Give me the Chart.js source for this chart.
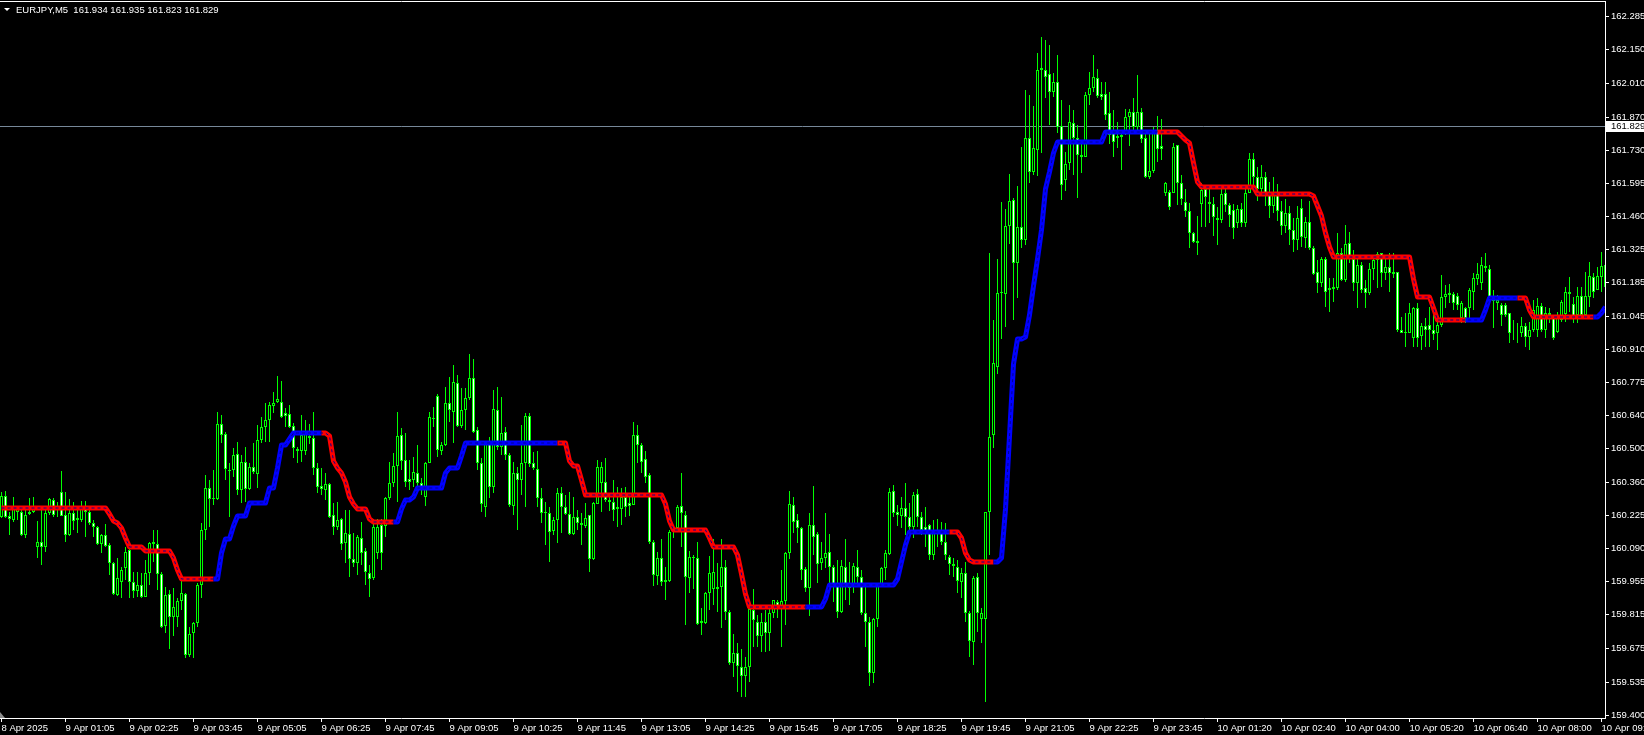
<!DOCTYPE html>
<html>
<head>
<meta charset="utf-8">
<script src="https://cdn.jsdelivr.net/npm/chart.js@4.4.1/dist/chart.umd.min.js"></script>
<style>
html, body { margin: 0; padding: 0; background: #000; overflow: hidden; }
#wrap { width: 1644px; height: 735px; }
</style>
</head>
<body>
<div id="wrap"><canvas id="chart" width="1644" height="735"></canvas></div>
<script>
// EURJPY M5, one entry per bar (8 Apr 23:45 ... 10 Apr 09:25)
var symbolTitle = 'EURJPY,M5  161.934 161.935 161.823 161.829';
var bidPrice = 161.829;

var opens = [
160.218,160.304,160.221,160.205,160.239,160.239,160.143,160.228,160.239,160.092,
160.115,160.092,160.235,160.287,160.249,160.319,160.225,160.143,160.235,160.212,
160.205,160.263,160.239,160.194,160.177,160.106,160.143,160.102,160.026,159.895,
159.950,160.005,160.081,159.948,159.913,159.937,159.886,159.987,160.106,160.104,
159.981,159.767,159.898,159.806,159.806,159.872,159.898,159.648,159.737,159.781,
159.937,160.164,160.335,160.290,160.290,160.600,160.558,160.411,160.411,160.477,
160.329,160.446,160.331,160.422,160.393,160.535,160.590,160.618,160.675,160.693,
160.693,160.645,160.642,160.593,160.496,160.490,160.491,160.552,160.542,160.418,
160.345,160.328,160.353,160.225,160.177,160.207,160.109,160.147,160.042,160.029,
160.129,160.077,159.985,159.964,160.070,160.184,160.180,160.294,160.359,160.428,
160.556,160.452,160.374,160.370,160.400,160.356,160.298,160.438,160.624,160.716,
160.491,160.514,160.689,160.652,160.771,160.593,160.659,160.707,160.789,160.576,
160.438,160.260,160.521,160.340,160.659,160.505,160.569,160.473,160.262,160.397,
160.370,160.441,160.634,160.441,160.414,160.294,160.239,160.232,160.160,160.205,
160.317,160.260,160.228,160.147,160.216,160.191,160.180,160.225,160.044,160.271,
160.359,160.360,160.287,160.281,160.259,160.249,160.301,160.274,160.266,160.556,
160.514,160.455,160.391,160.115,159.974,160.047,159.957,159.954,160.157,160.171,
160.263,160.226,159.964,160.054,160.047,159.780,159.778,159.905,159.919,159.919,
159.930,160.012,159.827,159.613,159.657,159.600,159.561,159.600,159.833,159.785,
159.724,159.785,159.740,159.820,159.868,159.836,159.871,160.070,160.267,160.205,
160.170,160.001,159.923,160.184,160.147,160.026,160.047,160.071,160.012,159.936,
159.826,160.012,159.936,159.930,160.012,159.968,159.820,159.785,159.575,159.795,
159.940,160.005,160.064,160.326,160.239,160.222,160.253,160.219,160.177,160.311,
160.219,160.174,160.184,160.060,160.157,160.150,160.113,160.054,160.022,160.012,
159.950,159.985,159.820,159.703,159.968,159.795,159.795,160.239,160.556,160.838,
161.140,161.138,161.418,161.525,161.267,161.415,161.360,161.780,161.642,161.732,
162.062,162.062,162.045,161.972,162.014,161.831,161.608,161.677,161.845,161.780,
161.711,161.704,161.959,161.986,162.028,161.963,161.963,161.883,161.814,161.789,
161.794,161.800,161.869,161.890,161.828,161.890,161.780,161.619,161.646,161.811,
161.748,161.553,161.560,161.556,161.752,161.594,161.518,161.481,161.388,161.358,
161.509,161.570,161.519,161.509,161.450,161.443,161.553,161.505,161.484,161.432,
161.487,161.429,161.553,161.693,161.620,161.570,161.620,161.550,161.500,161.560,
161.480,161.420,161.470,161.400,161.360,161.491,161.367,161.436,161.326,161.230,
161.182,161.281,161.154,161.157,161.161,161.305,161.195,161.350,161.281,161.182,
161.257,161.161,161.143,161.239,161.278,161.305,161.226,161.248,161.230,161.230,
160.991,160.982,160.978,160.955,161.078,160.964,161.006,161.010,160.990,160.978,
161.010,161.127,161.134,161.136,161.128,161.040,161.078,161.078,161.147,161.199,
161.182,161.253,161.239,161.129,161.099,161.092,161.092,161.058,160.978,160.975,
160.978,161.006,160.961,160.989,160.989,161.088,160.989,161.051,161.037,160.982,
161.030,161.057,161.146,161.096,161.051,161.129,161.051,161.126,161.206,161.154,
161.209,161.257
];

var highs = [
160.322,160.324,160.239,160.301,160.253,160.253,160.253,160.294,160.298,160.201,
160.253,160.253,160.294,160.294,160.281,160.407,160.322,160.290,160.281,160.253,
160.285,160.285,160.246,160.205,160.181,160.147,160.188,160.111,160.033,160.047,
160.012,160.095,160.088,159.992,159.992,159.987,160.040,160.115,160.164,160.164,
159.992,159.930,159.916,159.923,159.882,159.957,159.902,159.765,159.785,159.944,
160.191,160.391,160.370,160.411,160.649,160.638,160.569,160.439,160.500,160.525,
160.473,160.508,160.439,160.521,160.597,160.631,160.689,160.693,160.734,160.800,
160.780,160.666,160.679,160.604,160.508,160.640,160.617,160.600,160.652,160.439,
160.418,160.397,160.356,160.273,160.280,160.212,160.246,160.246,160.150,160.143,
160.198,160.088,160.019,160.207,160.207,160.207,160.301,160.445,160.480,160.652,
160.583,160.562,160.452,160.466,160.514,160.380,160.445,160.652,160.672,160.725,
160.528,160.755,160.796,160.844,160.803,160.748,160.748,160.890,160.870,160.590,
160.459,160.528,160.549,160.741,160.755,160.714,160.590,160.480,160.445,160.425,
160.597,160.645,160.648,160.487,160.491,160.335,160.280,160.260,160.218,160.335,
160.342,160.308,160.321,160.301,160.246,160.232,160.273,160.225,160.280,160.452,
160.446,160.459,160.300,160.370,160.342,160.336,160.342,160.315,160.611,160.597,
160.521,160.490,160.397,160.122,160.074,160.126,160.012,160.164,160.185,160.267,
160.398,160.240,160.076,160.060,160.115,159.840,159.909,160.056,160.126,160.026,
160.126,160.040,159.833,159.734,159.696,159.671,159.638,159.861,159.919,159.813,
159.820,159.833,159.836,159.875,159.875,159.999,160.074,160.325,160.301,160.229,
160.177,160.012,160.232,160.345,160.157,160.115,160.233,160.147,160.019,160.040,
160.040,160.126,160.033,160.026,160.081,159.999,159.933,159.806,159.799,159.944,
160.012,160.081,160.336,160.349,160.267,160.301,160.356,160.274,160.322,160.333,
160.239,160.260,160.188,160.205,160.208,160.198,160.191,160.060,160.050,160.040,
160.005,160.033,159.830,159.974,159.985,159.840,160.239,161.305,161.030,161.281,
161.518,161.487,161.633,161.532,161.583,161.746,161.979,161.959,161.914,162.131,
162.200,162.186,162.165,162.048,162.124,161.938,161.725,161.917,161.897,161.835,
161.773,161.973,162.055,162.124,162.065,162.014,162.014,161.973,161.897,161.849,
161.814,161.900,161.900,161.945,162.041,161.904,161.814,161.814,161.828,161.872,
161.861,161.600,161.567,161.759,161.752,161.629,161.570,161.515,161.395,161.459,
161.594,161.588,161.581,161.539,161.498,161.588,161.588,161.515,161.509,161.505,
161.512,161.581,161.721,161.720,161.660,161.670,161.640,161.600,161.620,161.590,
161.520,161.530,161.500,161.450,161.500,161.530,161.457,161.520,161.336,161.278,
161.292,161.292,161.202,161.205,161.388,161.326,161.422,161.395,161.319,161.285,
161.271,161.196,161.264,161.299,161.312,161.308,161.299,161.305,161.305,161.230,
161.044,161.058,161.099,161.085,161.099,161.017,161.038,161.085,161.051,161.028,
161.216,161.175,161.178,161.147,161.140,161.110,161.085,161.161,161.223,161.264,
161.292,161.308,161.257,161.154,161.133,161.099,161.099,161.058,161.030,161.017,
161.044,161.017,161.020,161.113,161.120,161.099,161.085,161.078,161.051,161.065,
161.113,161.168,161.209,161.126,161.168,161.168,161.230,161.271,161.226,161.250,
161.312,161.257
];

var lows = [
160.212,160.212,160.143,160.198,160.205,160.139,160.129,160.225,160.232,160.050,
160.019,160.074,160.225,160.218,160.218,160.223,160.115,160.139,160.164,160.153,
160.198,160.136,160.184,160.136,160.102,160.067,160.095,159.978,159.895,159.891,
159.882,159.957,159.882,159.882,159.888,159.882,159.886,159.937,160.033,159.916,
159.760,159.737,159.671,159.726,159.765,159.833,159.634,159.641,159.634,159.765,
159.882,160.122,160.177,160.267,160.287,160.521,160.370,160.218,160.384,160.308,
160.274,160.281,160.329,160.395,160.335,160.521,160.528,160.528,160.648,160.689,
160.625,160.590,160.583,160.459,160.441,160.445,160.473,160.520,160.390,160.317,
160.308,160.287,160.212,160.143,160.163,160.081,160.026,159.971,160.012,159.978,
160.019,159.936,159.888,159.957,160.042,159.998,160.136,160.287,160.342,160.280,
160.411,160.342,160.328,160.342,160.328,160.310,160.264,160.438,160.590,160.463,
160.473,160.510,160.611,160.521,160.590,160.583,160.576,160.700,160.562,160.411,
160.239,160.218,160.294,160.315,160.494,160.473,160.452,160.260,160.225,160.163,
160.308,160.260,160.425,160.411,160.260,160.194,160.101,160.033,160.143,160.111,
160.150,160.225,160.143,160.143,160.164,160.102,160.170,159.991,160.040,160.271,
160.239,160.281,160.240,160.200,160.175,160.185,160.219,160.223,160.266,160.439,
160.398,160.359,160.106,159.933,159.936,159.933,159.875,159.950,160.130,160.164,
160.092,159.772,159.902,159.920,159.772,159.730,159.776,159.833,159.854,159.826,
159.758,159.793,159.606,159.558,159.496,159.476,159.476,159.538,159.682,159.682,
159.658,159.662,159.666,159.799,159.800,159.682,159.772,160.042,160.153,160.109,
159.957,159.909,159.809,160.060,159.943,159.999,160.005,159.943,159.868,159.799,
159.820,159.875,159.854,159.903,159.930,159.813,159.682,159.520,159.531,159.765,
159.930,159.957,160.060,160.219,160.181,160.171,160.143,160.164,160.129,160.177,
160.143,160.095,160.040,160.040,160.095,160.102,160.040,159.978,159.970,159.902,
159.882,159.785,159.641,159.607,159.744,159.699,159.455,160.060,160.501,160.807,
160.950,161.000,161.344,161.030,161.120,161.326,161.340,161.597,161.628,161.624,
161.718,161.945,161.835,161.952,161.801,161.525,161.564,161.649,161.629,161.532,
161.636,161.701,161.918,161.973,161.945,161.938,161.856,161.757,161.701,161.739,
161.649,161.794,161.749,161.803,161.807,161.760,161.615,161.611,161.635,161.684,
161.690,161.540,161.484,161.556,161.505,161.505,161.457,161.326,161.349,161.298,
161.415,161.413,161.429,161.377,161.340,161.430,161.477,161.415,161.363,161.409,
161.415,161.415,161.553,161.580,161.520,161.550,161.500,161.450,161.470,161.440,
161.380,161.390,161.340,161.310,161.320,161.333,161.326,161.319,161.216,161.143,
161.168,161.085,161.065,161.106,161.154,161.192,161.188,161.264,161.151,161.078,
161.140,161.078,161.133,161.195,161.161,161.165,161.195,161.147,161.202,160.982,
160.975,160.920,160.975,160.920,160.920,160.906,160.920,160.920,160.948,160.906,
161.003,161.078,161.099,161.071,161.070,161.017,161.017,161.037,161.071,161.175,
161.154,161.230,161.120,160.996,161.071,161.006,161.044,160.934,160.948,160.934,
160.961,160.920,160.906,160.982,160.961,160.982,160.955,161.017,160.948,160.975,
161.023,161.023,161.064,161.019,161.017,161.044,161.051,161.085,161.120,161.154,
161.147,161.113
];

var closes = [
160.304,160.218,160.210,160.260,160.249,160.143,160.225,160.239,160.257,160.115,
160.092,160.235,160.290,160.225,160.260,160.223,160.143,160.232,160.201,160.205,
160.263,160.239,160.194,160.175,160.104,160.143,160.099,160.026,159.898,159.964,
159.998,160.074,159.948,159.913,159.937,159.886,159.987,160.109,160.113,159.981,
159.765,159.895,159.806,159.847,159.872,159.902,159.648,159.733,159.781,159.937,
160.164,160.335,160.290,160.294,160.600,160.556,160.414,160.407,160.473,160.329,
160.446,160.331,160.422,160.404,160.535,160.590,160.618,160.679,160.689,160.703,
160.631,160.634,160.587,160.500,160.491,160.555,160.560,160.542,160.418,160.342,
160.331,160.353,160.218,160.177,160.205,160.106,160.150,160.042,160.026,160.133,
160.070,159.989,159.960,160.174,160.177,160.070,160.294,160.359,160.428,160.551,
160.450,160.363,160.363,160.404,160.356,160.335,160.438,160.628,160.620,160.494,
160.514,160.689,160.659,160.776,160.593,160.659,160.707,160.789,160.569,160.438,
160.271,160.521,160.340,160.661,160.505,160.565,160.473,160.267,160.397,160.370,
160.441,160.634,160.436,160.418,160.294,160.232,160.232,160.157,160.205,160.315,
160.257,160.228,160.146,160.218,160.194,160.183,160.212,160.042,160.273,160.422,
160.422,160.287,160.278,160.246,160.249,160.301,160.260,160.263,160.556,160.514,
160.446,160.381,160.115,159.978,160.049,159.948,159.948,160.157,160.174,160.260,
160.233,159.968,160.051,160.050,159.776,159.790,159.902,159.985,159.992,159.930,
160.012,159.827,159.613,159.657,159.602,159.561,159.600,159.836,159.792,159.727,
159.785,159.740,159.820,159.875,159.836,159.871,160.070,160.270,160.198,160.170,
159.999,159.923,160.184,160.136,160.023,160.047,160.070,160.012,159.936,159.826,
160.015,159.930,159.926,160.015,159.968,159.820,159.785,159.575,159.795,159.940,
160.008,160.067,160.322,160.235,160.226,160.253,160.219,160.175,160.308,160.216,
160.164,160.160,160.060,160.164,160.150,160.113,160.060,160.022,160.015,159.953,
159.985,159.820,159.707,159.964,159.820,159.823,160.239,160.549,160.851,161.140,
161.145,161.418,161.521,161.264,161.415,161.360,161.780,161.642,161.739,162.062,
162.069,162.034,161.972,162.014,161.825,161.587,161.674,161.849,161.780,161.711,
161.704,161.959,161.986,162.032,161.955,161.952,161.876,161.794,161.766,161.780,
161.784,161.869,161.890,161.828,161.890,161.776,161.619,161.646,161.814,161.735,
161.735,161.594,161.495,161.745,161.594,161.528,161.481,161.388,161.353,161.349,
161.567,161.536,161.509,161.454,161.443,161.550,161.505,161.464,161.409,161.487,
161.429,161.556,161.693,161.620,161.570,161.620,161.550,161.500,161.560,161.480,
161.420,161.470,161.400,161.360,161.450,161.371,161.436,161.326,161.220,161.182,
161.281,161.147,161.164,161.168,161.305,161.195,161.344,161.281,161.182,161.257,
161.154,161.143,161.239,161.278,161.303,161.226,161.250,161.223,161.220,160.989,
160.978,160.978,161.061,161.078,160.955,161.006,160.990,160.990,160.972,161.010,
161.127,161.136,161.142,161.102,161.094,161.100,161.037,161.154,161.202,161.220,
161.257,161.243,161.127,161.110,161.113,161.051,161.051,160.975,160.975,160.978,
161.006,160.961,160.990,161.072,161.088,160.989,161.061,161.061,160.955,161.047,
161.106,161.146,161.136,161.033,161.129,161.051,161.129,161.212,161.147,161.212,
161.253,161.168
];

// stepped trend indicator, one value per bar
var trendLine = [
160.253,160.253,160.253,160.253,160.253,160.253,160.253,160.253,160.253,160.253,
160.253,160.253,160.253,160.253,160.253,160.253,160.253,160.253,160.253,160.253,
160.253,160.253,160.253,160.253,160.253,160.253,160.253,160.230,160.200,160.191,
160.170,160.130,160.095,160.095,160.095,160.095,160.077,160.077,160.077,160.077,
160.077,160.077,160.077,160.050,160.000,159.960,159.960,159.960,159.960,159.960,
159.960,159.960,159.960,159.960,159.960,160.070,160.125,160.125,160.180,160.221,
160.221,160.221,160.274,160.274,160.274,160.274,160.274,160.335,160.335,160.420,
160.515,160.515,160.540,160.563,160.563,160.563,160.563,160.563,160.563,160.563,
160.563,160.563,160.550,160.450,160.420,160.400,160.360,160.300,160.270,160.250,
160.250,160.250,160.210,160.198,160.198,160.198,160.198,160.198,160.198,160.198,
160.250,160.287,160.287,160.300,160.335,160.335,160.335,160.335,160.335,160.335,
160.335,160.400,160.418,160.418,160.418,160.470,160.521,160.521,160.521,160.521,
160.521,160.521,160.521,160.521,160.521,160.521,160.521,160.521,160.521,160.521,
160.521,160.521,160.521,160.521,160.521,160.521,160.521,160.521,160.521,160.521,
160.521,160.521,160.450,160.428,160.428,160.370,160.306,160.306,160.306,160.306,
160.306,160.306,160.306,160.306,160.306,160.306,160.306,160.306,160.306,160.306,
160.306,160.306,160.306,160.306,160.306,160.306,160.270,160.200,160.164,160.164,
160.164,160.164,160.164,160.164,160.164,160.164,160.164,160.130,160.095,160.095,
160.095,160.095,160.095,160.095,160.060,159.980,159.900,159.844,159.844,159.844,
159.844,159.844,159.844,159.844,159.844,159.844,159.844,159.844,159.844,159.844,
159.844,159.844,159.844,159.844,159.844,159.844,159.880,159.937,159.937,159.937,
159.937,159.937,159.937,159.937,159.937,159.937,159.937,159.937,159.937,159.937,
159.937,159.937,159.937,159.937,159.960,160.030,160.100,160.154,160.154,160.154,
160.154,160.154,160.154,160.154,160.154,160.154,160.154,160.154,160.154,160.154,
160.130,160.070,160.040,160.033,160.033,160.033,160.033,160.033,160.033,160.033,
160.050,160.250,160.550,160.850,160.950,160.950,160.960,161.050,161.170,161.280,
161.400,161.570,161.640,161.720,161.766,161.766,161.766,161.766,161.766,161.766,
161.766,161.766,161.766,161.766,161.766,161.766,161.807,161.807,161.807,161.807,
161.807,161.807,161.807,161.807,161.807,161.807,161.807,161.807,161.807,161.807,
161.807,161.807,161.807,161.807,161.807,161.790,161.773,161.760,161.680,161.600,
161.581,161.581,161.581,161.581,161.581,161.581,161.581,161.581,161.581,161.581,
161.581,161.581,161.581,161.581,161.550,161.550,161.550,161.550,161.550,161.550,
161.550,161.550,161.550,161.550,161.550,161.550,161.550,161.550,161.540,161.500,
161.460,161.390,161.330,161.292,161.292,161.292,161.292,161.292,161.292,161.292,
161.292,161.292,161.292,161.292,161.292,161.292,161.292,161.292,161.292,161.292,
161.292,161.292,161.292,161.200,161.127,161.127,161.127,161.127,161.080,161.030,
161.030,161.030,161.030,161.030,161.030,161.030,161.030,161.030,161.030,161.030,
161.030,161.070,161.120,161.120,161.120,161.120,161.120,161.120,161.120,161.120,
161.120,161.120,161.070,161.041,161.041,161.041,161.041,161.041,161.041,161.041,
161.041,161.041,161.041,161.041,161.041,161.041,161.041,161.041,161.041,161.041,
161.060,161.085
];

// bar index where the indicator turns down (red) or up (blue)
var trendSwitches = [
  [0, 'down'], [54, 'up'], [81, 'down'], [99, 'up'], [140, 'down'], [202, 'up'],
  [238, 'down'], [249, 'up'], [290, 'down'], [367, 'up'], [380, 'down'], [399, 'up']
];

var xTickBars = [0,16,32,48,64,80,96,112,128,144,160,176,192,208,224,240,256,272,288,304,320,336,352,368,384,400];
var xTickLabels = ['8 Apr 2025','9 Apr 01:05','9 Apr 02:25','9 Apr 03:45','9 Apr 05:05','9 Apr 06:25',
  '9 Apr 07:45','9 Apr 09:05','9 Apr 10:25','9 Apr 11:45','9 Apr 13:05','9 Apr 14:25','9 Apr 15:45',
  '9 Apr 17:05','9 Apr 18:25','9 Apr 19:45','9 Apr 21:05','9 Apr 22:25','9 Apr 23:45','10 Apr 01:20',
  '10 Apr 02:40','10 Apr 04:00','10 Apr 05:20','10 Apr 06:40','10 Apr 08:00','10 Apr 09:20'];
var yTickValues = [162.285,162.150,162.010,161.870,161.730,161.595,161.460,161.325,161.185,161.045,160.910,
  160.775,160.640,160.500,160.360,160.225,160.090,159.955,159.815,159.675,159.535,159.400];

var FONT = '"Liberation Sans", Arial, sans-serif';
var GREEN = '#00ff00';

function trendDir(i) {
  var d = 'down';
  for (var k = 0; k < trendSwitches.length; k++) {
    if (trendSwitches[k][0] <= i) d = trendSwitches[k][1];
  }
  return d;
}

var bodyData = opens.map(function (o, i) { return { x: i, y: [o, closes[i]] }; });
var wickData = lows.map(function (l, i) { return { x: i, y: [l, highs[i]] }; });
var trendData = trendLine.map(function (v, i) { return { x: i, y: v }; });

var mtPlugin = {
  id: 'mt',
  beforeDraw: function (chart) {
    var ctx = chart.ctx;
    ctx.save();
    ctx.fillStyle = '#000';
    ctx.fillRect(0, 0, chart.width, chart.height);
    ctx.restore();
  },
  beforeDatasetsDraw: function (chart) {
    var ctx = chart.ctx, a = chart.chartArea;
    var y = Math.round(chart.scales.y.getPixelForValue(bidPrice)) + 0.5;
    ctx.save();
    ctx.strokeStyle = '#778899';
    ctx.lineWidth = 1;
    ctx.beginPath();
    ctx.moveTo(a.left, y);
    ctx.lineTo(a.right, y);
    ctx.stroke();
    ctx.restore();
  },
  afterDraw: function (chart) {
    var ctx = chart.ctx, a = chart.chartArea;
    ctx.save();
    // top frame line
    ctx.strokeStyle = '#ffffff';
    ctx.lineWidth = 1;
    ctx.beginPath();
    ctx.moveTo(0, a.top + 0.5);
    ctx.lineTo(a.right + 1, a.top + 0.5);
    ctx.stroke();
    // header
    ctx.fillStyle = '#ffffff';
    ctx.beginPath();
    ctx.moveTo(4, 8); ctx.lineTo(10, 8); ctx.lineTo(7, 11); ctx.closePath();
    ctx.fill();
    ctx.font = '9.5px ' + FONT;
    ctx.textBaseline = 'alphabetic';
    ctx.textAlign = 'left';
    ctx.fillText(symbolTitle, 16, 13);
    // bid price tag
    var y = Math.round(chart.scales.y.getPixelForValue(bidPrice));
    ctx.fillStyle = '#ffffff';
    ctx.fillRect(a.right + 1, y - 5, chart.width - a.right - 1, 11);
    ctx.fillStyle = '#000000';
    ctx.textBaseline = 'middle';
    ctx.fillText(bidPrice.toFixed(3), a.right + 6, y + 0.5);
    // small shift marker bottom-left
    ctx.fillStyle = '#8c8c8c';
    ctx.beginPath();
    ctx.moveTo(0, a.bottom - 6); ctx.lineTo(0, a.bottom); ctx.lineTo(5, a.bottom); ctx.closePath();
    ctx.fill();
    ctx.restore();
  }
};

new Chart(document.getElementById('chart'), {
  type: 'bar',
  data: {
    datasets: [
      {
        type: 'line', label: 'trend dash', data: trendData, order: 0,
        borderColor: '#000090', borderWidth: 1, borderDash: [3, 3],
        pointRadius: 0, tension: 0, fill: false
      },
      {
        type: 'line', label: 'trend', data: trendData, order: 1,
        borderColor: '#ff0000', borderWidth: 5, pointRadius: 0, tension: 0, fill: false,
        borderJoinStyle: 'round',
        segment: {
          borderColor: function (c) { return trendDir(c.p1DataIndex) === 'up' ? '#0000ff' : '#ff0000'; }
        }
      },
      {
        type: 'bar', label: 'body', data: bodyData, order: 2, grouped: false,
        barThickness: 3, borderWidth: 1, borderColor: GREEN, borderSkipped: false, inflateAmount: 0,
        backgroundColor: function (c) {
          var i = c.dataIndex;
          return closes[i] < opens[i] ? '#ffffff' : '#000000';
        }
      },
      {
        type: 'bar', label: 'wick', data: wickData, order: 3, grouped: false,
        barThickness: 1, borderWidth: 0, inflateAmount: 0, backgroundColor: GREEN
      }
    ]
  },
  options: {
    responsive: false,
    animation: false,
    devicePixelRatio: 1,
    events: [],
    layout: { padding: { top: 1, left: 0, right: 0, bottom: 0 } },
    plugins: { legend: { display: false }, tooltip: { enabled: false } },
    scales: {
      x: {
        type: 'linear', min: -0.375, max: 400.875, offset: false,
        afterBuildTicks: function (s) { s.ticks = xTickBars.map(function (v) { return { value: v }; }); },
        afterFit: function (s) { s.height = 17; s.paddingLeft = 0; s.paddingRight = 0; },
        grid: { display: true, drawOnChartArea: false, drawTicks: true, tickLength: 4, color: '#ffffff', offset: false },
        border: { display: true, color: '#ffffff', width: 1 },
        ticks: {
          autoSkip: false, maxRotation: 0, minRotation: 0, align: 'start', padding: 1,
          color: '#ffffff', font: { family: FONT, size: 9.5 },
          callback: function (v) { var k = xTickBars.indexOf(v); return k >= 0 ? xTickLabels[k] : ''; }
        }
      },
      y: {
        type: 'linear', position: 'right', min: 159.3876, max: 162.3468, alignToPixels: true,
        afterBuildTicks: function (s) { s.ticks = yTickValues.map(function (v) { return { value: v }; }); },
        afterFit: function (s) { s.width = 39; s.paddingTop = 0; s.paddingBottom = 0; },
        grid: { display: true, drawOnChartArea: false, drawTicks: true, tickLength: 4, color: '#ffffff' },
        border: { display: true, color: '#ffffff', width: 1 },
        ticks: {
          padding: 2, color: '#ffffff', font: { family: FONT, size: 9.5 },
          callback: function (v) { return Number(v).toFixed(3); }
        }
      }
    }
  },
  plugins: [mtPlugin]
});
</script>
</body>
</html>
